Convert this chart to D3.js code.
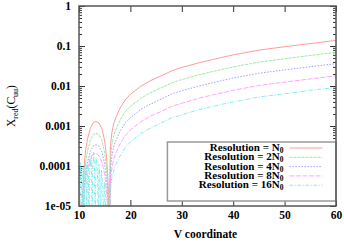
<!DOCTYPE html>
<html>
<head>
<meta charset="utf-8">
<script src="https://cdn.jsdelivr.net/npm/d3@7"></script>
<style>
  body { margin: 0; background: #fff; }
  svg { display: block; font-family: "Liberation Serif", "DejaVu Serif", serif; font-weight: bold; }
</style>
</head>
<body>
<svg id="chart" width="344" height="242"></svg>
<script>
// sample positions shared by the smooth series
var xSmooth = [10.0, 10.4, 10.8, 11.0, 11.3, 11.7, 12.2, 12.8, 13.3, 13.9, 14.5, 15.0, 15.4, 15.7, 15.9,
               16.1, 16.4, 16.8, 17.3, 18, 19, 20, 22, 24, 26, 28, 30, 33, 36, 40, 45, 50, 55, 60];

var redVals = [0.00004, 0.000002, 0.00003, 0.0001, 0.00026, 0.0005, 0.00088, 0.00122, 0.0013, 0.00118, 0.00082, 0.00042, 0.00015, 0.00003, 0.000001,
               0.0003, 0.0007, 0.0012, 0.0018, 0.0028, 0.0045, 0.0062, 0.0098, 0.0138, 0.018, 0.0238, 0.029, 0.037, 0.046, 0.060, 0.079, 0.096, 0.115, 0.138];
var greenVals = [0.00002, 0.000001, 0.000015, 0.00005, 0.00013, 0.00025, 0.00045, 0.00062, 0.00066, 0.0006, 0.00042, 0.00021, 0.00008, 0.000015, 0.000001,
                 0.00015, 0.00035, 0.0006, 0.0009, 0.0014, 0.0023, 0.0031, 0.0049, 0.0069, 0.009, 0.0119, 0.0145, 0.0185, 0.023, 0.030, 0.0395, 0.048, 0.058, 0.069];
var blueVals = [0.00001, 0.000001, 0.000008, 0.000026, 0.00007, 0.00013, 0.00023, 0.00032, 0.00034, 0.00031, 0.00022, 0.00011, 0.00004, 0.000008, 0.000001,
                0.00008, 0.00018, 0.00032, 0.00047, 0.00074, 0.0012, 0.0016, 0.0026, 0.0036, 0.0047, 0.0063, 0.0076, 0.0097, 0.0121, 0.0158, 0.0208, 0.0253, 0.0303, 0.0363];
var magentaVals = [0.00003, 0.000001, 0.000006, 0.00002, 0.00005, 0.0001, 0.00016, 0.0002, 0.00021, 0.00018, 0.00012, 0.00006, 0.00002, 0.000004, 0.000001,
                   0.00004, 0.00009, 0.00016, 0.00023, 0.00036, 0.00058, 0.0008, 0.00127, 0.0018, 0.0023, 0.0031, 0.0037, 0.0048, 0.006, 0.0078, 0.0103, 0.0125, 0.015, 0.018];

// the finest resolution is noisy below V = 16
var xCyan = [10.0, 10.15, 10.3, 10.45, 10.6, 10.75, 10.9, 11.05, 11.2, 11.35, 11.5, 11.65, 11.8, 11.95, 12.1, 12.25, 12.4, 12.55, 12.7, 12.85,
             13.0, 13.15, 13.3, 13.45, 13.6, 13.75, 13.9, 14.05, 14.2, 14.35, 14.5, 14.65, 14.8, 14.95, 15.1, 15.25, 15.4, 15.55, 15.7, 15.85, 16.0,
             16.4, 16.8, 17.3, 18, 19, 20, 22, 24, 26, 28, 30, 33, 36, 40, 45, 50, 55, 60];
var cyanVals = [0.00008, 0.000003, 0.00012, 0.00005, 0.000002, 0.00009, 0.00004, 0.000004, 0.0001, 0.00013, 0.000006, 0.00007, 0.00011, 0.000003, 0.00015, 0.0001, 0.00018, 0.000005, 0.00012, 0.00022,
                0.00009, 0.000004, 0.00016, 0.00012, 0.00007, 0.000003, 0.00011, 0.00006, 0.000002, 0.00008, 0.00005, 0.00003, 0.000002, 0.00004, 0.00002, 0.000003, 0.00001, 0.000005, 0.000002, 0.000001, 0.00002,
                0.00005, 0.00008, 0.00012, 0.00018, 0.00029, 0.0004, 0.00065, 0.0009, 0.0012, 0.0016, 0.0019, 0.0025, 0.0031, 0.004, 0.0053, 0.0064, 0.0078, 0.0092];

var legendLabels = ["", "2", "4", "8", "16"];
var xTicks = [10, 20, 30, 40, 50, 60];
var yTicks = [1e-5, 1e-4, 1e-3, 1e-2, 1e-1, 1];
var yTickLabels = ["1e-05", "0.0001", "0.001", "0.01", "0.1", "1"];

var series = [
    {x: xSmooth, y: redVals, color: '#ff9c9c', dash: null},
    {x: xSmooth, y: greenVals, color: '#9cec9c', dash: '3,1'},
    {x: xSmooth, y: blueVals, color: '#a0a0ff', dash: '1.5,1.5'},
    {x: xSmooth, y: magentaVals, color: '#ffa4ff', dash: '5,1.5'},
    {x: xCyan, y: cyanVals, color: '#80eeee', dash: '4,1.5,1,1.5'}
];

var margin = {top: 6, left: 79, right: 8, bottom: 36},
    width = 344 - margin.left - margin.right,
    height = 242 - margin.top - margin.bottom;

var svg = d3.select('#chart');
var g = svg.append('g').attr('transform', 'translate(' + margin.left + ',' + margin.top + ')');

var xScale = d3.scaleLinear().domain([10, 60]).range([0, width]);
var yScale = d3.scaleLog().domain([1e-5, 1]).range([height, 0]);

g.append('clipPath').attr('id', 'clip')
    .append('rect').attr('width', width).attr('height', height);

// minor log ticks
var minor = [];
for (var e = -5; e < 0; e++) {
    for (var m = 2; m <= 9; m++) minor.push(m * Math.pow(10, e));
}

// y axis left and right
g.append('g').call(d3.axisLeft(yScale).tickValues(minor).tickSize(-3).tickFormat(''))
    .call(function(a) { a.select('.domain').remove(); });
g.append('g').attr('transform', 'translate(' + width + ',0)')
    .call(d3.axisRight(yScale).tickValues(minor).tickSize(-3).tickFormat(''))
    .call(function(a) { a.select('.domain').remove(); });
g.append('g').call(d3.axisLeft(yScale).tickValues(yTicks).tickSize(-6).tickPadding(8)
        .tickFormat(function(d, i) { return yTickLabels[i]; }))
    .call(function(a) { a.select('.domain').remove(); });
g.append('g').attr('transform', 'translate(' + width + ',0)')
    .call(d3.axisRight(yScale).tickValues(yTicks).tickSize(-6).tickFormat(''))
    .call(function(a) { a.select('.domain').remove(); });

// x axis bottom and top
g.append('g').attr('transform', 'translate(0,' + height + ')')
    .call(d3.axisBottom(xScale).tickValues(xTicks).tickSize(-6).tickPadding(5).tickFormat(d3.format('d')))
    .call(function(a) { a.select('.domain').remove(); });
g.append('g')
    .call(d3.axisTop(xScale).tickValues(xTicks).tickSize(-6).tickFormat(''))
    .call(function(a) { a.select('.domain').remove(); });

g.selectAll('.tick line').attr('stroke', '#333');
g.selectAll('.tick text').attr('font-size', 11.5).attr('fill', '#000')
    .attr('font-family', '"Liberation Serif", serif').attr('font-weight', 'bold');

// curves
var line = d3.line()
    .x(function(d) { return xScale(d[0]); })
    .y(function(d) { return yScale(d[1]); });

var curves = g.append('g').attr('clip-path', 'url(#clip)');
series.forEach(function(s) {
    var pts = s.x.map(function(x, i) { return [x, s.y[i]]; });
    curves.append('path')
        .datum(pts)
        .attr('d', line)
        .attr('fill', 'none')
        .attr('stroke', s.color)
        .attr('stroke-width', 1)
        .attr('stroke-dasharray', s.dash);
});

// legend
var lg = g.append('g').attr('transform', 'translate(' + xScale(27.2) + ',' + (yScale(1) + 136) + ')');
lg.append('rect').attr('width', width - xScale(27.2)).attr('height', 59)
    .attr('fill', '#fff').attr('stroke', '#999').attr('stroke-width', 1.5);
series.forEach(function(s, i) {
    var row = lg.append('g').attr('transform', 'translate(0,' + (6 + i * 9.3) + ')');
    var t = row.append('text').attr('x', 116).attr('y', 3).attr('text-anchor', 'end')
        .attr('font-size', 11);
    t.append('tspan').text('Resolution = ' + legendLabels[i] + 'N');
    t.append('tspan').attr('font-size', 7.5).attr('dy', 2).text('0');
    row.append('line').attr('x1', 122).attr('x2', 155).attr('y1', 0).attr('y2', 0)
        .attr('stroke', s.color).attr('stroke-width', 1).attr('stroke-dasharray', s.dash);
});

// frame
g.append('rect').attr('width', width).attr('height', height)
    .attr('fill', 'none').attr('stroke', '#555').attr('stroke-width', 1.5);

// axis titles
svg.append('text').attr('x', margin.left + width / 2 - 2).attr('y', 238)
    .attr('text-anchor', 'middle').attr('font-size', 11.5).text('V coordinate');

var yt = svg.append('text').attr('transform', 'translate(15,106) rotate(-90)')
    .attr('text-anchor', 'middle').attr('font-size', 11.5).attr('font-weight', 'normal');
yt.append('tspan').text('X');
yt.append('tspan').attr('font-size', 8).attr('dy', 3).text('red');
yt.append('tspan').attr('dy', -3).text('(C');
yt.append('tspan').attr('font-size', 8).attr('dy', 3).text('uu');
yt.append('tspan').attr('dy', -3).text(')');
</script>
</body>
</html>
